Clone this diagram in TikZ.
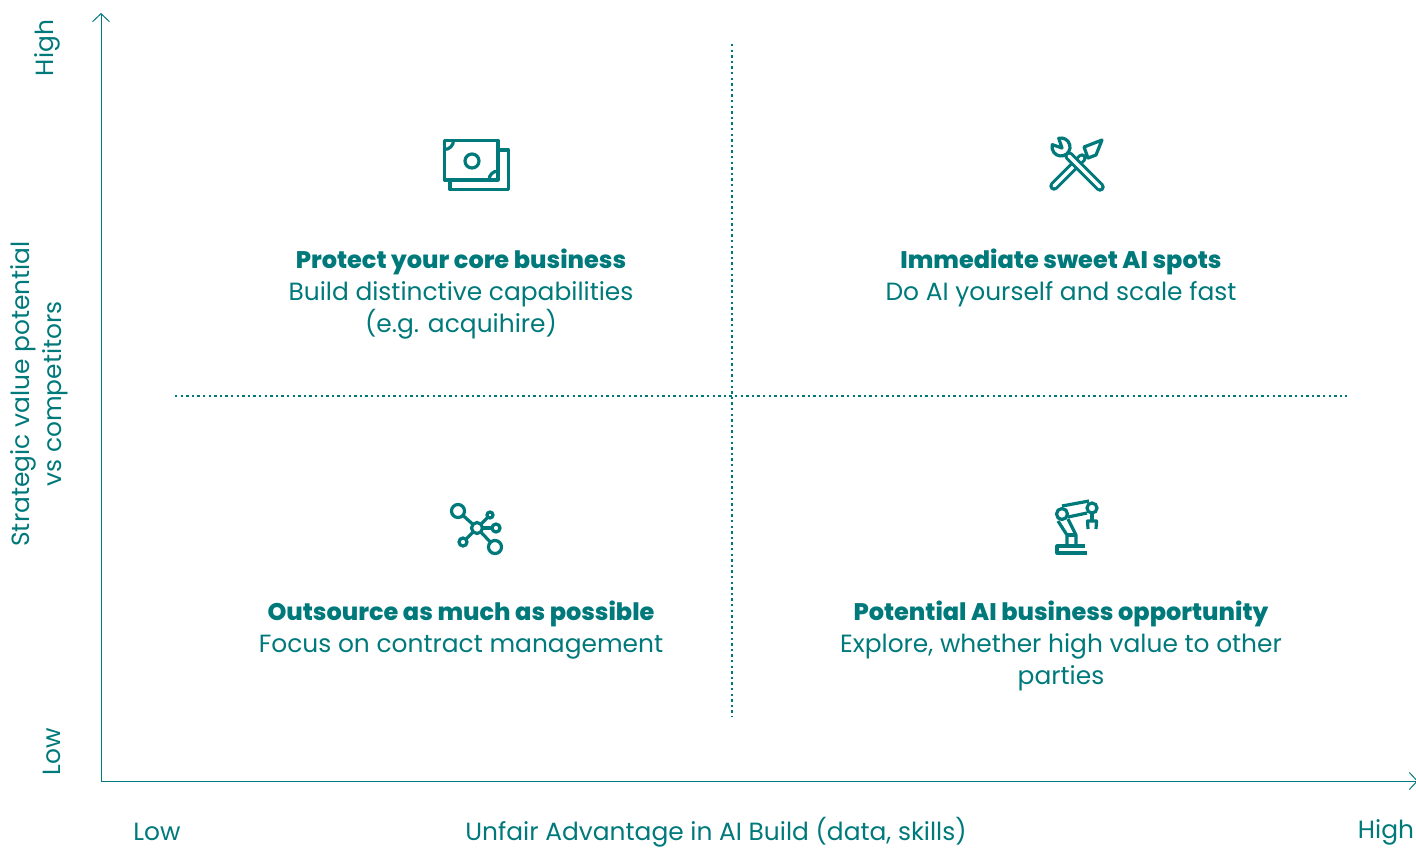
\documentclass[tikz,border=0pt]{standalone}
\usepackage{fontspec}
\setmainfont{Poppins}[BoldFont=* ExtraBold]
\usetikzlibrary{arrows.meta,positioning}
\definecolor{tealmain}{HTML}{00797B}
\tikzset{
    axis/.style={
        draw=tealmain,
        line width=1pt,
        -{Straight Barb[length=8pt,width=17pt,line width=1pt]}
    },
    divider/.style={
        draw=tealmain,
        line width=2.2pt,
        dash pattern=on 2.4pt off 3.2pt
    },
    quadrant/.style={
        text=tealmain,
        align=center,
        anchor=north,
        inner sep=0pt,
        font=\fontsize{24.9}{32}\selectfont
    },
    axislabel/.style={
        text=tealmain,
        align=center,
        inner sep=0pt,
        font=\fontsize{24.9}{32}\selectfont
    },
    icon/.style={
        draw=tealmain,
        line width=3.2pt,
        line join=round
    },
    spoke/.style={
        icon,
        shorten <=-1pt,
        shorten >=-1pt
    },
    hub/.style={
        draw=tealmain,
        line width=3.2pt,
        circle,
        inner sep=0pt,
        minimum size=#1
    },
}
\newcommand{\headline}[1]{{\fontsize{24}{32}\selectfont\textbf{#1}}}
\begin{document}
\begin{tikzpicture}[x=1pt, y=-1pt]
    \useasboundingbox (0,0) rectangle (1416,847);

    % axes
    \coordinate (origin) at (101,781);
    \coordinate (topend) at (101,13);
    \coordinate (rightend) at (1418,781);
    \draw[axis] (origin) -- (topend);
    \draw[axis] (origin) -- (rightend);

    % dotted dividers
    \coordinate (divW) at (175,396);
    \coordinate (divE) at (1347,396);
    \coordinate (divN) at (732,44);
    \coordinate (divS) at (732,717);
    \draw[divider] (divW) -- (divE);
    \draw[divider] (divN) -- (divS);

    % quadrant texts
    \node[quadrant] (core) at (461,249) {\headline{Protect your core business}\\Build distinctive capabilities\\(e.g. acquihire)};
    \node[quadrant] (sweet) at (1061,249) {\headline{Immediate sweet AI spots}\\Do AI yourself and scale fast};
    \node[quadrant] (outsource) at (461,601) {\headline{Outsource as much as possible}\\Focus on contract management};
    \node[quadrant] (potential) at (1061,601) {\headline{Potential AI business opportunity}\\Explore, whether high value to other\\parties};

    % axis labels
    \node[axislabel, rotate=90] (valuelabel) at (39.5,394) {Strategic value potential\\vs competitors};
    \node[axislabel, rotate=90] (ylow) at (52,752) {Low};
    \node[axislabel, rotate=90] (yhigh) at (47,48) {High};
    \node[axislabel] (xlow) at (157,832) {Low};
    \node[axislabel] (xlabel) at (716,832) {Unfair Advantage in AI Build (data, skills)};
    \node[axislabel] (xhigh) at (1386,832) {High};

    % money icon
    \draw[icon] (444.5,140.5) rectangle (498,180);
    \draw[icon] (444.5,149.5) arc (90:0:9);
    \draw[icon] (489,180) arc (180:270:9);
    \draw[icon] (472,161) circle (7);
    \draw[icon] (498,150) -- (508.5,150) -- (508.5,189.5) -- (450,189.5) -- (450,180);

    % tools icon
    \draw[tealmain, line width=9.5pt, line cap=round] (1054,186) -- (1082,158);
    \draw[white, line width=3.4pt, line cap=round] (1054,186) -- (1082,158);
    \draw[tealmain, line width=9.5pt, line cap=round] (1069,156) -- (1100,187);
    \draw[white, line width=3.4pt, line cap=round] (1069,156) -- (1100,187);
    \draw[icon, fill=white] (1058.7,138.3) arc (255:555:9) -- (1062,148) -- cycle;
    \draw[icon, fill=white] (1102,140) -- (1084,147) -- (1088,158) -- (1096,155) -- cycle;

    % network icon
    \node[hub=11pt] (nodeC) at (477,528) {};
    \node[hub=13pt] (nodeA) at (458,511) {};
    \node[hub=13pt] (nodeB) at (495,547) {};
    \node[hub=6pt] (nodeD) at (490,515) {};
    \node[hub=8pt] (nodeE) at (496,528) {};
    \node[hub=8pt] (nodeF) at (463,542) {};
    \foreach \leaf in {nodeA,nodeB,nodeD,nodeE,nodeF}
        \draw[spoke] (nodeC) -- (\leaf);

    % robot arm icon
    \node[hub=11pt] (shoulder) at (1062,514) {};
    \node[hub=10pt] (elbow) at (1092,508) {};
    \draw[icon] (1062,506) -- (1089,501);
    \draw[icon] (1068,517) -- (1087,513);
    \draw[icon] (1058,521) -- (1067,535) -- (1067,546);
    \draw[icon] (1068,519) -- (1076,535) -- (1076,546);
    \draw[icon] (1067,535) -- (1076,535);
    \draw[icon] (1085,546) -- (1057,546) -- (1057,553) -- (1087,553);
    \draw[icon] (1092,514) -- (1092,520);
    \draw[icon] (1088,529) -- (1087.5,521) -- (1096.5,521) -- (1096,529);
\end{tikzpicture}
\end{document}
